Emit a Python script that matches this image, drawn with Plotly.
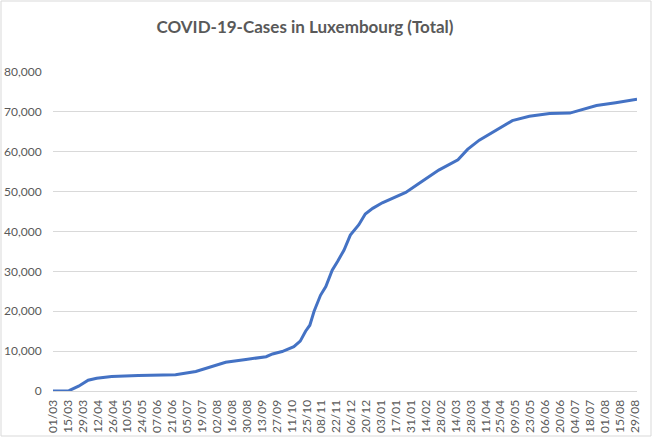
import plotly.graph_objects as go

# cumulative COVID-19 cases in Luxembourg
dates = [
    "2020-03-01", "2020-03-16", "2020-03-25", "2020-04-03", "2020-04-11",
    "2020-04-25", "2020-05-20", "2020-06-24", "2020-07-13", "2020-07-29",
    "2020-08-10", "2020-08-29", "2020-09-17", "2020-09-23", "2020-10-02",
    "2020-10-13", "2020-10-19", "2020-10-24", "2020-10-28", "2020-11-01",
    "2020-11-07", "2020-11-12", "2020-11-18", "2020-11-23", "2020-11-29",
    "2020-12-05", "2020-12-13", "2020-12-19", "2020-12-26", "2021-01-04",
    "2021-01-13", "2021-01-26", "2021-02-07", "2021-02-26", "2021-03-16",
    "2021-03-25", "2021-04-05", "2021-04-21", "2021-05-06", "2021-05-22",
    "2021-06-10", "2021-06-29", "2021-07-11", "2021-07-24", "2021-08-11",
    "2021-08-31",
]
cases = [
    0, 80, 1200, 2700, 3200,
    3650, 3900, 4050, 4900, 6300,
    7200, 7900, 8600, 9300, 9900,
    11100, 12500, 15000, 16500, 20000,
    24000, 26200, 30300, 32500, 35300,
    39100, 41700, 44400, 45800, 47200,
    48300, 49800, 52000, 55400, 58000,
    60600, 62900, 65400, 67800, 68900,
    69600, 69700, 70600, 71600, 72300,
    73200,
]

W, H = 653, 437
ml, mr, mt, mb = 53, 16, 72, 46
pw, ph = W - ml - mr, H - mt - mb

fig = go.Figure()
fig.add_trace(go.Scatter(
    x=dates,
    y=cases,
    mode='lines',
    line=dict(color='#4472C4', width=3),
    hoverinfo='none',
))

fig.update_layout(
    width=W,
    height=H,
    showlegend=False,
    plot_bgcolor='white',
    paper_bgcolor='white',
    margin=dict(l=ml, r=mr, t=mt, b=mb, autoexpand=False),
    font=dict(family='Lato', size=12, color='#595959'),
    title=dict(
        text='<b>COVID-19-Cases in Luxembourg (Total)</b>',
        x=305 / W, xanchor='center', xref='container',
        y=1 - 27 / H, yanchor='middle', yref='container',
        font=dict(family='Lato', size=17, color='#595959'),
    ),
    shapes=[dict(
        type='rect', xref='paper', yref='paper',
        x0=-(ml - 1) / pw, x1=1 + (mr - 2) / pw,
        y0=-(mb - 1) / ph, y1=1 + (mt - 1) / ph,
        line=dict(color='#D9D9D9', width=1),
    )],
)
fig.update_xaxes(
    type='date',
    range=['2020-03-01', '2021-08-31'],
    tick0='2020-03-01',
    dtick=14 * 86400000,
    tickformat='%d/%m',
    tickangle=-90,
    automargin=False,
    showgrid=False,
    showline=True,
    linecolor='#D9D9D9',
    ticks='outside',
    tickcolor='white',
    ticklen=3,
    tickfont=dict(size=12, color='#595959'),
)
fig.update_yaxes(
    range=[0, 80000],
    dtick=10000,
    tickformat=',',
    automargin=False,
    gridcolor='#D9D9D9',
    zeroline=False,
    ticks='outside',
    tickcolor='white',
    ticklen=8,
    tickfont=dict(size=12, color='#595959'),
)

fig.write_html(
    "out.html",
    config={'displayModeBar': False},
    post_script="document.body.style.margin='0px';",
)
